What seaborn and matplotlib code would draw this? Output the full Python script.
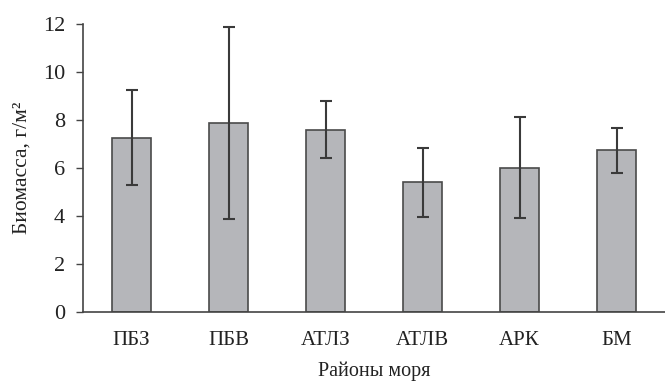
import matplotlib
matplotlib.use("Agg")
import matplotlib.pyplot as plt
import seaborn as sns
import pandas as pd

regions = ["ПБЗ", "ПБВ", "АТЛЗ", "АТЛВ", "АРК", "БМ"]
biomass = [7.26, 7.87, 7.59, 5.40, 6.01, 6.73]
biomass_err = [1.98, 4.0, 1.18, 1.43, 2.1, 0.94]
y_ticks = [0, 2, 4, 6, 8, 10, 12]

df = pd.DataFrame({"region": regions, "biomass": biomass, "err": biomass_err})

sns.set_theme(style="white")
plt.rcParams["font.family"] = ["Liberation Serif", "DejaVu Serif"]

fig = plt.figure(figsize=(6.65, 3.87), dpi=100)
ax = fig.add_axes([0.125, 0.194, 0.875, 0.744])

sns.barplot(data=df, x="region", y="biomass", order=regions, color="#b5b6ba",
            edgecolor="#4a4a4a", linewidth=1.2, width=0.41, errorbar=None,
            saturation=1, ax=ax)
ax.errorbar(x=range(len(regions)), y=df["biomass"], yerr=df["err"], fmt="none",
            ecolor="#3a3a3a", elinewidth=1.5, capsize=4, capthick=1.5)

ax.set_xlim(-0.5, len(regions) - 0.5)
ax.set_ylim(0, 12)
ax.set_yticks(y_ticks)
ax.set_yticklabels([str(t) for t in y_ticks])
ax.tick_params(axis="y", length=5, width=1, color="#444444", labelsize=16,
               labelcolor="#222222", direction="out", left=True, pad=8)
ax.tick_params(axis="x", length=0, labelsize=15, labelcolor="#222222", pad=14)

for side in ["top", "right"]:
    ax.spines[side].set_visible(False)
for side in ["left", "bottom"]:
    ax.spines[side].set_color("#444444")
    ax.spines[side].set_linewidth(1.2)

ax.set_xlabel("Районы моря", fontsize=14.5, color="#222222", labelpad=8)
ax.set_ylabel("Биомасса, г/м²", fontsize=15.5, color="#222222", labelpad=8)

fig.savefig("out.png", dpi=100)
